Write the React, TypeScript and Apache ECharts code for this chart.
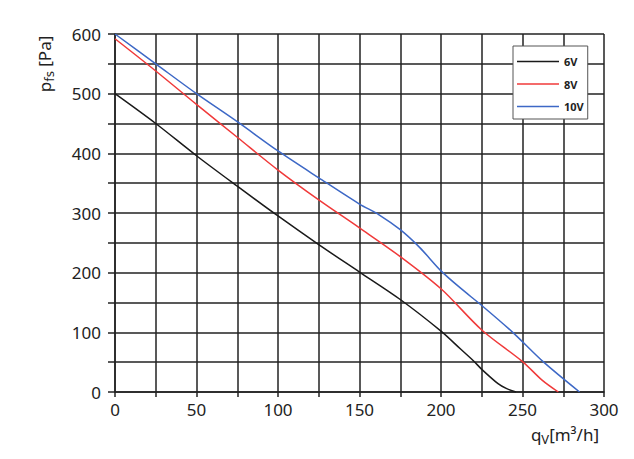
import React, { useEffect, useRef } from "react";
import * as echarts from "echarts";

const seriesNames = ["6V", "8V", "10V"];
const colors = ["#1a1a1a", "#f03a3a", "#3d68c6"];

const v6: [number, number][] = [
  [0, 500], [25, 450], [50, 396], [75, 345], [100, 295], [125, 247], [150, 201],
  [175, 155], [200, 102], [212, 72], [220, 52], [225, 38], [235, 14], [240, 6], [246, 0],
];
const v8: [number, number][] = [
  [0, 592], [25, 538], [50, 482], [75, 427], [100, 372], [125, 322], [150, 275],
  [175, 227], [200, 173], [225, 104], [250, 51], [262, 20], [272, 0],
];
const v10: [number, number][] = [
  [0, 600], [25, 550], [50, 500], [75, 453], [100, 404], [125, 359], [150, 315],
  [162, 297], [175, 272], [187, 242], [200, 203], [212, 174], [225, 145], [244, 100],
  [263, 50], [285, 0],
];

const xLabels = [0, 50, 100, 150, 200, 250, 300];
const yLabels = [0, 100, 200, 300, 400, 500, 600];

const FONT = "'Noto Sans', sans-serif";

export default function App() {
  const ref = useRef<HTMLDivElement>(null);
  useEffect(() => {
    if (!ref.current) return;
    const chart = echarts.init(ref.current, undefined, { renderer: "svg" });
    const gridLine = { color: "#222", width: 1.5 };
    const data = [v6, v8, v10];
    chart.setOption({
      animation: false,
      backgroundColor: "#fff",
      textStyle: { fontFamily: FONT },
      grid: { left: 115, right: 30, top: 34, bottom: 67 },
      legend: {
        data: seriesNames,
        icon: "rect",
        orient: "vertical",
        left: 513,
        top: 46,
        padding: [10, 4, 7, 4],
        itemGap: 11.5,
        itemWidth: 42,
        itemHeight: 1.5,
        itemTextGap: 2,
        backgroundColor: "#fff",
        borderColor: "#555",
        borderWidth: 1,
        textStyle: { fontSize: 11, fontWeight: "bold", color: "#222", fontFamily: FONT },
      },
      xAxis: {
        type: "value",
        min: 0,
        max: 300,
        interval: 25,
        axisLine: { show: true, lineStyle: gridLine },
        axisTick: { show: true, length: 5, lineStyle: gridLine },
        splitLine: { show: true, lineStyle: gridLine },
        axisLabel: {
          fontSize: 17,
          color: "#222",
          margin: 9,
          fontFamily: FONT,
          formatter: (v: number) => (xLabels.includes(v) ? String(v) : ""),
        },
      },
      yAxis: {
        type: "value",
        min: 0,
        max: 600,
        interval: 50,
        axisLine: { show: true, lineStyle: gridLine },
        axisTick: { show: true, length: 7, lineStyle: gridLine },
        splitLine: { show: true, lineStyle: gridLine },
        axisLabel: {
          fontSize: 17,
          color: "#222",
          margin: 14,
          fontFamily: FONT,
          formatter: (v: number) => (yLabels.includes(v) ? String(v) : ""),
        },
      },
      graphic: [
        {
          type: "text",
          x: 44,
          y: 64,
          rotation: Math.PI / 2,
          style: {
            text: "{a|p}{s|fs}{a| [Pa]}",
            align: "center",
            verticalAlign: "middle",
            fill: "#222",
            rich: {
              a: { fontSize: 17, fontFamily: FONT, fill: "#222", lineHeight: 22, verticalAlign: "middle" },
              s: { fontSize: 13, fontFamily: FONT, fill: "#222", lineHeight: 12, verticalAlign: "bottom" },
            },
          },
        },
        {
          type: "text",
          x: 599,
          y: 434,
          style: {
            text: "{a|q}{s|V}{a|[m³/h]}",
            align: "right",
            verticalAlign: "middle",
            fill: "#222",
            rich: {
              a: { fontSize: 17, fontFamily: FONT, fill: "#222", lineHeight: 22, verticalAlign: "middle" },
              s: { fontSize: 13, fontFamily: FONT, fill: "#222", lineHeight: 12, verticalAlign: "bottom" },
            },
          },
        },
      ],
      series: seriesNames.map((name, i) => ({
        name,
        type: "line",
        data: data[i],
        smooth: 0.3,
        symbol: "none",
        showSymbol: false,
        color: colors[i],
        lineStyle: { color: colors[i], width: 1.5 },
        z: 5,
      })),
    });
    return () => chart.dispose();
  }, []);
  return (
    <div
      ref={ref}
      style={{ position: "fixed", left: 0, top: 0, width: 634, height: 459 }}
    />
  );
}
